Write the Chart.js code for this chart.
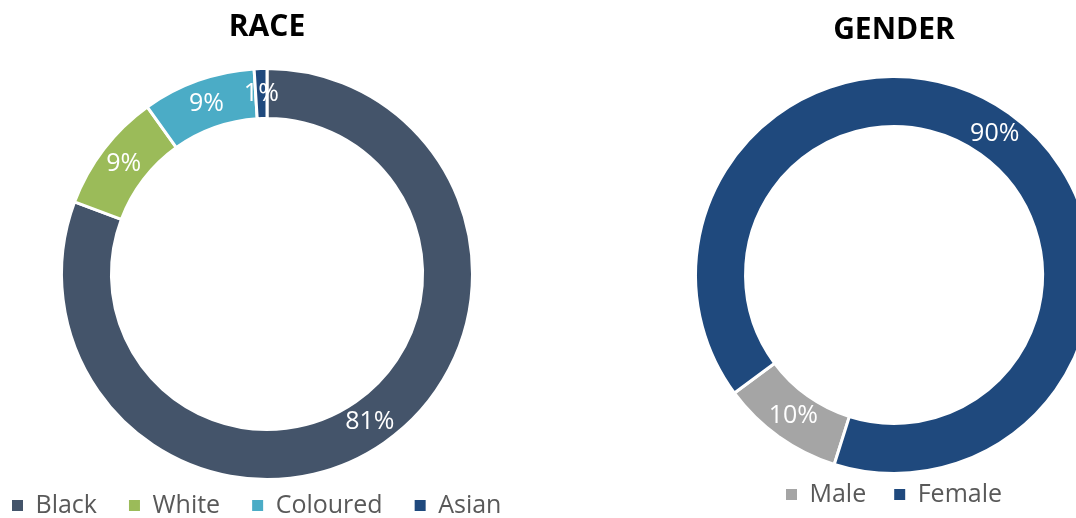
<!DOCTYPE html>
<html>
<head>
<meta charset="utf-8">
<script src="https://cdn.jsdelivr.net/npm/chart.js@4.4.1/dist/chart.umd.min.js"></script>
<style>
  html, body { margin: 0; padding: 0; background: #fff; overflow: hidden; width: 1076px; height: 518px; }
  .box { position: absolute; top: 0; }
  #raceBox { left: -20px; width: 574px; height: 528px; }
  #genderBox { left: 684px; width: 420px; height: 517px; }
</style>
</head>
<body>
<div class="box" id="raceBox"><canvas id="raceChart"></canvas></div>
<div class="box" id="genderBox"><canvas id="genderChart"></canvas></div>
<script>
const raceLabels = ['Black', 'White', 'Coloured', 'Asian'];
const raceValues = [80.7, 9.4, 8.9, 1.0];
const raceColors = ['#44546A', '#9BBB59', '#4BACC6', '#1F497D'];

const genderLabels = ['Male', 'Female'];
const genderValues = [10, 90];
const genderColors = ['#A5A5A5', '#1F497D'];

const FONT = '"Open Sans", "Noto Sans", sans-serif';

// white % text in the middle of each slice
const pctLabels = {
  id: 'pctLabels',
  afterDatasetsDraw(chart) {
    const ctx = chart.ctx;
    const data = chart.data.datasets[0].data;
    const total = data.reduce((a, b) => a + b, 0);
    ctx.save();
    ctx.font = '25px ' + FONT;
    ctx.fillStyle = '#fff';
    ctx.textAlign = 'center';
    ctx.textBaseline = 'middle';
    chart.getDatasetMeta(0).data.forEach((arc, i) => {
      const p = arc.tooltipPosition();
      ctx.fillText(Math.round(data[i] / total * 100) + '%', p.x, p.y);
    });
    ctx.restore();
  }
};

function makeDonut(id, title, labels, values, colors, cfg) {
  return new Chart(document.getElementById(id), {
    type: 'doughnut',
    data: {
      labels: labels,
      datasets: [{
        data: values,
        backgroundColor: colors,
        borderColor: '#fff',
        borderWidth: 3,
        clip: false
      }]
    },
    options: {
      responsive: true,
      maintainAspectRatio: false,
      animation: false,
      rotation: cfg.rotation,
      radius: cfg.radius,
      cutout: cfg.cutout,
      plugins: {
        tooltip: { enabled: false },
        title: {
          display: true,
          text: title,
          color: '#000',
          font: { family: FONT, size: 30, weight: 'bold' },
          padding: cfg.titlePad
        },
        legend: {
          position: 'bottom',
          align: cfg.legendAlign,
          labels: {
            color: '#595959',
            font: { family: FONT, size: 25 },
            boxWidth: 11,
            boxHeight: 11,
            padding: cfg.legendPad,
            generateLabels: (chart) =>
              Chart.overrides.doughnut.plugins.legend.labels.generateLabels(chart)
                .map(l => Object.assign(l, { lineWidth: 0, strokeStyle: l.fillStyle }))
          }
        }
      }
    },
    plugins: [pctLabels]
  });
}

makeDonut('raceChart', 'RACE', raceLabels, raceValues, raceColors, {
  rotation: 0,
  radius: 205.5,
  cutout: '75.7%',
  titlePad: { top: 9, bottom: 42 },
  legendPad: 32,
  legendAlign: 'start'
});

makeDonut('genderChart', 'GENDER', genderLabels, genderValues, genderColors, {
  rotation: 197.5,
  radius: 198.5,
  cutout: '74.8%',
  titlePad: { top: 12, bottom: 48 },
  legendPad: 28,
  legendAlign: 'center'
});
</script>
</body>
</html>
